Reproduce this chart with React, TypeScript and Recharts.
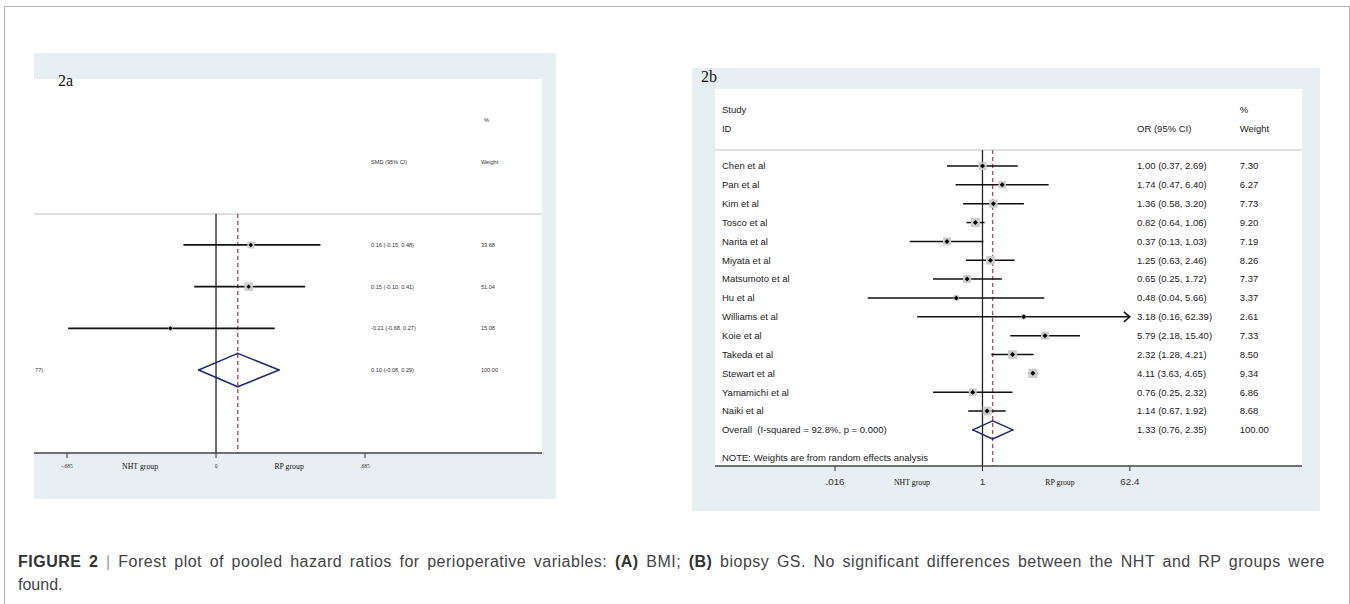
import React from 'react';
import { ScatterChart, Scatter, XAxis, YAxis, ReferenceLine } from 'recharts';

// 2a: BMI, standardised mean difference
const BMI_SMD = [0.16, 0.15, -0.21];
const BMI_LOW = [-0.15, -0.1, -0.68];
const BMI_HIGH = [0.48, 0.41, 0.27];
const BMI_WEIGHT = [33.68, 51.04, 15.08];
const BMI_OVERALL = [0.1, -0.08, 0.29];
const BMI_TICKS = [-0.685, 0, 0.685];
const BMI_TICK_LABELS = ['-.685', '0', '.685'];

// 2b: biopsy GS, odds ratios
const STUDIES = [
  'Chen et al', 'Pan et al', 'Kim et al', 'Tosco et al', 'Narita et al', 'Miyata et al',
  'Matsumoto et al', 'Hu et al', 'Williams et al', 'Koie et al', 'Takeda et al',
  'Stewart et al', 'Yamamichi et al', 'Naiki et al',
];
const GS_OR = [1.0, 1.74, 1.36, 0.82, 0.37, 1.25, 0.65, 0.48, 3.18, 5.79, 2.32, 4.11, 0.76, 1.14];
const GS_LOW = [0.37, 0.47, 0.58, 0.64, 0.13, 0.63, 0.25, 0.04, 0.16, 2.18, 1.28, 3.63, 0.25, 0.67];
const GS_HIGH = [2.69, 6.4, 3.2, 1.06, 1.03, 2.46, 1.72, 5.66, 62.39, 15.4, 4.21, 4.65, 2.32, 1.92];
const GS_WEIGHT = [7.3, 6.27, 7.73, 9.2, 7.19, 8.26, 7.37, 3.37, 2.61, 7.33, 8.5, 9.34, 6.86, 8.68];
const GS_OVERALL = [1.33, 0.76, 2.35];
const GS_I2 = '92.8%';
const GS_P = '0.000';
const GS_TICKS = [0.016, 1, 62.4];
const GS_TICK_LABELS = ['.016', '1', '62.4'];

const GROUPS = ['NHT group', 'RP group'];

const SANS = '"Liberation Sans", Arial, Helvetica, sans-serif';
const SERIF = '"Liberation Serif", "Times New Roman", serif';
const BG = '#e8eff2';

const f2 = (v: number) => v.toFixed(2);
const ciText = (e: number, l: number, h: number) => `${f2(e)} (${f2(l)}, ${f2(h)})`;

// log axis of 2b: the white plot spans these decades
const LOG_MIN = -3.258;
const LOG_MAX = 3.892;
const logAt = (frac: number) => Math.pow(10, LOG_MIN + frac * (LOG_MAX - LOG_MIN));

type Txt = { x: number; y: number; t: string };
type TextCol = { data: Txt[]; size: number; font?: string; color?: string };

interface ForestProps {
  width: number;
  height: number;
  axisHeight: number;
  scale: 'linear' | 'log';
  xDomain: [number, number];
  yDomain: [number, number];
  est: number[];
  low: number[];
  high: number[];
  weight: number[];
  overall: number[];
  nullX: number;
  sepY: number;
  ticks: number[];
  tickLabels: string[];
  groupX: number[];
  texts: TextCol[];
  boxK: number;
  dot: number;
  ciWidth: number;
  diamondHalf: number;
  tickFont: string;
  tickSize: number;
  groupSize: number;
  tickLen: number;
  labelGap: number;
  clipAt?: number;
}

const arrowShape = (w: number) => (props: any) => (
  <g>
    <line x1={props.x1} y1={props.y1} x2={props.x2} y2={props.y2} stroke="#111" strokeWidth={w} />
    <polyline
      points={`${props.x2 - 6},${props.y2 - 5} ${props.x2},${props.y2} ${props.x2 - 6},${props.y2 + 5}`}
      fill="none"
      stroke="#111"
      strokeWidth={w}
    />
  </g>
);

function Forest(p: ForestProps) {
  const n = p.est.length;
  const oy = n + 1;
  const [ox, ol, oh] = p.overall;
  const yMax = p.yDomain[1];
  const boxes = p.est.map((x, i) => ({ x, y: i + 1, w: p.weight[i] }));
  const dots = p.est.map((x, i) => ({ x, y: i + 1 }));
  const dia = [
    [ol, oy],
    [ox, oy - p.diamondHalf],
    [oh, oy],
    [ox, oy + p.diamondHalf],
    [ol, oy],
  ];

  const entries = [
    ...p.ticks.map((v, i) => ({ v, label: p.tickLabels[i], group: false })),
    ...p.groupX.map((v, i) => ({ v, label: GROUPS[i], group: true })),
  ].sort((a, b) => a.v - b.v);

  const renderTick = (props: any) => {
    const val = props.payload?.value;
    const e = entries.find((en) => Math.abs(en.v - val) <= Math.abs(en.v) * 1e-9 + 1e-12);
    if (!e) return <g />;
    const { x, y } = props;
    if (e.group) {
      return (
        <text x={x} y={y + p.labelGap} dy="0.35em" textAnchor="middle" fontFamily={SERIF} fontSize={p.groupSize} fill="#111">
          {e.label}
        </text>
      );
    }
    return (
      <g>
        <line x1={x} y1={y} x2={x} y2={y + p.tickLen} stroke="#333" strokeWidth={1} />
        <text x={x} y={y + p.labelGap} dy="0.35em" textAnchor="middle" fontFamily={p.tickFont} fontSize={p.tickSize} fill="#333">
          {e.label}
        </text>
      </g>
    );
  };

  const boxShape = (props: any) => {
    const s = p.boxK * Math.sqrt(props.payload.w);
    return <rect x={props.cx - s / 2} y={props.cy - s / 2} width={s} height={s} fill="#cdcdcd" />;
  };
  const dotShape = (props: any) => {
    const d = p.dot;
    return (
      <path
        d={`M${props.cx - d},${props.cy} L${props.cx},${props.cy - d} L${props.cx + d},${props.cy} L${props.cx},${props.cy + d} Z`}
        fill="#000"
      />
    );
  };
  const textShape = (col: TextCol) => (props: any) => (
    <text
      x={props.cx}
      y={props.cy}
      dy="0.35em"
      fontFamily={col.font || SANS}
      fontSize={col.size}
      fill={col.color || '#222'}
      style={{ whiteSpace: 'pre' }}
    >
      {props.payload.t}
    </text>
  );

  return (
    <ScatterChart width={p.width} height={p.height} margin={{ top: 0, right: 0, bottom: 0, left: 0 }}>
      <XAxis
        type="number"
        dataKey="x"
        scale={p.scale}
        domain={p.xDomain}
        allowDataOverflow
        ticks={entries.map((e) => e.v)}
        interval={0}
        tick={renderTick}
        tickLine={false}
        tickSize={0}
        tickMargin={0}
        axisLine={{ stroke: '#444', strokeWidth: 1.5 }}
        height={p.axisHeight}
      />
      <YAxis type="number" dataKey="y" domain={p.yDomain} reversed hide allowDataOverflow />
      <ReferenceLine y={p.sepY} stroke="#d6d6d6" strokeWidth={1.5} ifOverflow="visible" />
      <ReferenceLine
        segment={[{ x: p.nullX, y: p.sepY }, { x: p.nullX, y: yMax }]}
        stroke="#222"
        strokeWidth={1.3}
        ifOverflow="visible"
      />
      <ReferenceLine
        segment={[{ x: ox, y: p.sepY }, { x: ox, y: yMax }]}
        stroke="#b3505f"
        strokeWidth={1.4}
        strokeDasharray="4 3"
        ifOverflow="visible"
      />
      <Scatter data={boxes} shape={boxShape} isAnimationActive={false} />
      {p.est.map((_, i) => (
        <ReferenceLine
          key={`ci-${i}`}
          segment={[{ x: p.low[i], y: i + 1 }, { x: p.high[i], y: i + 1 }]}
          stroke="#111"
          strokeWidth={p.ciWidth}
          ifOverflow="visible"
          shape={p.clipAt !== undefined && p.high[i] >= p.clipAt ? arrowShape(p.ciWidth) : undefined}
        />
      ))}
      <Scatter data={dots} shape={dotShape} isAnimationActive={false} />
      {dia.slice(0, 4).map((pt, i) => (
        <ReferenceLine
          key={`dia-${i}`}
          segment={[{ x: pt[0], y: pt[1] }, { x: dia[i + 1][0], y: dia[i + 1][1] }]}
          stroke="#1e2a78"
          strokeWidth={1.5}
          strokeLinecap="round"
          ifOverflow="visible"
        />
      ))}
      {p.texts.map((col, i) => (
        <Scatter key={`txt-${i}`} data={col.data} shape={textShape(col)} isAnimationActive={false} />
      ))}
    </ScatterChart>
  );
}

// column positions (data units) for the text columns
const A_EST_X = 0.713;
const A_W_X = 1.218;
const A_LABEL_X = -0.832;
const B_STUDY_X = logAt(0.0119);
const B_OR_X = logAt(0.719);
const B_W_X = logAt(0.894);

export default function App() {
  const aRows = BMI_SMD.length;
  const aTexts: TextCol[] = [
    {
      size: 5.6,
      color: '#333',
      data: [
        { x: A_W_X + 0.014, y: -2.0, t: '%' },
        { x: A_EST_X, y: -0.99, t: 'SMD (95% CI)' },
        { x: A_W_X, y: -0.99, t: 'Weight' },
        ...BMI_SMD.map((e, i) => ({ x: A_EST_X, y: i + 1, t: ciText(e, BMI_LOW[i], BMI_HIGH[i]) })),
        ...BMI_WEIGHT.map((w, i) => ({ x: A_W_X, y: i + 1, t: f2(w) })),
        { x: A_EST_X, y: aRows + 1, t: ciText(BMI_OVERALL[0], BMI_OVERALL[1], BMI_OVERALL[2]) },
        { x: A_W_X, y: aRows + 1, t: '100.00' },
        { x: A_LABEL_X, y: aRows + 1, t: '77)' },
      ],
    },
  ];

  const bRows = STUDIES.length;
  const bTexts: TextCol[] = [
    {
      size: 9.5,
      data: [
        { x: B_STUDY_X, y: -1.965, t: 'Study' },
        { x: B_STUDY_X, y: -0.96, t: 'ID' },
        { x: B_OR_X, y: -0.96, t: 'OR (95% CI)' },
        { x: B_W_X, y: -1.965, t: '%' },
        { x: B_W_X, y: -0.96, t: 'Weight' },
        ...STUDIES.map((s, i) => ({ x: B_STUDY_X, y: i + 1, t: s })),
        ...GS_OR.map((e, i) => ({ x: B_OR_X, y: i + 1, t: ciText(e, GS_LOW[i], GS_HIGH[i]) })),
        ...GS_WEIGHT.map((w, i) => ({ x: B_W_X, y: i + 1, t: f2(w) })),
        { x: B_STUDY_X, y: bRows + 1, t: `Overall  (I-squared = ${GS_I2}, p = ${GS_P})` },
        { x: B_OR_X, y: bRows + 1, t: ciText(GS_OVERALL[0], GS_OVERALL[1], GS_OVERALL[2]) },
        { x: B_W_X, y: bRows + 1, t: '100.00' },
        { x: B_STUDY_X, y: 16.49, t: 'NOTE: Weights are from random effects analysis' },
      ],
    },
  ];

  return (
    <div>
      {/* frame */}
      <div
        style={{
          position: 'absolute',
          left: 4,
          top: 6,
          width: 1346,
          height: 598,
          border: '1.5px solid #b3b3b3',
          borderBottom: 'none',
          boxSizing: 'border-box',
        }}
      />

      {/* panel 2a */}
      <div style={{ position: 'absolute', left: 34, top: 53, width: 522, height: 446, background: BG }} />
      <div style={{ position: 'absolute', left: 34, top: 79, width: 508, height: 374, background: '#fff' }} />
      <div style={{ position: 'absolute', left: 34, top: 79 }}>
        <Forest
          width={508}
          height={420}
          axisHeight={46}
          scale="linear"
          xDomain={[-0.837, 1.499]}
          yDomain={[-2.98, 5.99]}
          est={BMI_SMD}
          low={BMI_LOW}
          high={BMI_HIGH}
          weight={BMI_WEIGHT}
          overall={BMI_OVERALL}
          nullX={0}
          sepY={0.26}
          ticks={BMI_TICKS}
          tickLabels={BMI_TICK_LABELS}
          groupX={[-0.349, 0.336]}
          texts={aTexts}
          boxK={1.2}
          dot={2.2}
          ciWidth={1.7}
          diamondHalf={0.4}
          tickFont={SERIF}
          tickSize={5.5}
          groupSize={7.8}
          tickLen={5}
          labelGap={13}
        />
      </div>
      <div style={{ position: 'absolute', left: 58, top: 73, fontFamily: SERIF, fontSize: 16, lineHeight: '16px', color: '#111' }}>
        2a
      </div>

      {/* panel 2b */}
      <div style={{ position: 'absolute', left: 692, top: 68, width: 628, height: 443, background: BG }} />
      <div style={{ position: 'absolute', left: 715, top: 89, width: 587, height: 377, background: '#fff' }} />
      <div style={{ position: 'absolute', left: 715, top: 89 }}>
        <Forest
          width={587}
          height={422}
          axisHeight={45}
          scale="log"
          xDomain={[logAt(0), logAt(1)]}
          yDomain={[-3.085, 16.915]}
          est={GS_OR}
          low={GS_LOW}
          high={GS_HIGH}
          weight={GS_WEIGHT}
          overall={GS_OVERALL}
          nullX={1}
          sepY={0.15}
          ticks={GS_TICKS}
          tickLabels={GS_TICK_LABELS}
          groupX={[logAt(0.3356), logAt(0.5877)]}
          texts={bTexts}
          boxK={3.0}
          dot={2.5}
          ciWidth={1.5}
          diamondHalf={0.48}
          tickFont={SANS}
          tickSize={9.8}
          groupSize={7.8}
          tickLen={5}
          labelGap={16}
          clipAt={62}
        />
      </div>
      <div style={{ position: 'absolute', left: 701, top: 69, fontFamily: SERIF, fontSize: 16, lineHeight: '16px', color: '#111' }}>
        2b
      </div>

      {/* caption */}
      <div
        style={{
          position: 'absolute',
          left: 18,
          top: 550,
          width: 1307,
          fontFamily: SANS,
          fontSize: 16,
          lineHeight: '23px',
          color: '#444',
        }}
      >
        <div style={{ textAlign: 'justify', textAlignLast: 'justify', letterSpacing: '0.5px' }}>
          <b style={{ color: '#333' }}>FIGURE 2</b> <span style={{ color: '#999' }}>|</span> Forest plot of pooled
          hazard ratios for perioperative variables: <b style={{ color: '#333' }}>(A)</b> BMI;{' '}
          <b style={{ color: '#333' }}>(B)</b> biopsy GS. No significant differences between the NHT and RP groups were
        </div>
        <div>found.</div>
      </div>
    </div>
  );
}
